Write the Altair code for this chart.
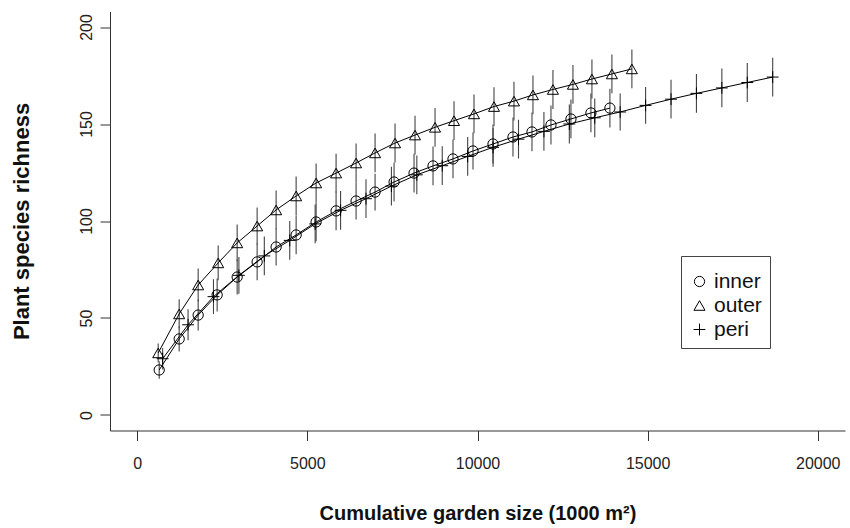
import altair as alt
import pandas as pd

series_names = ["inner", "outer", "peri"]

inner_x = [646, 1233, 1791, 2349, 2937, 3524, 4082, 4670, 5257, 5844, 6432, 6990,
           7548, 8135, 8693, 9280, 9868, 10455, 11043, 11601, 12159, 12746, 13333, 13891]
inner_y = [23.2, 39.2, 51.5, 61.9, 71.1, 78.9, 86.6, 92.8, 99.5, 105.2, 110.3, 114.9,
           120.1, 124.7, 128.4, 132.0, 136.1, 139.7, 143.3, 145.9, 149.5, 152.6, 155.7, 158.2]
inner_err = [4.5, 6.5, 8.0, 8.5, 9.0, 9.5, 9.5, 10.0, 10.0, 10.0, 9.5, 9.5,
             10.0, 10.0, 10.0, 10.0, 9.5, 10.0, 10.0, 10.0, 10.0, 10.0, 10.0, 10.0]

outer_x = [617, 1233, 1791, 2379, 2937, 3524, 4082, 4670, 5257, 5844, 6432, 6990, 7577,
           8164, 8752, 9310, 9897, 10485, 11072, 11630, 12217, 12805, 13363, 13950, 14537]
outer_y = [32.0, 52.1, 67.0, 78.4, 88.7, 97.4, 105.7, 112.9, 119.6, 124.7, 129.9, 135.1, 140.2,
           144.3, 148.3, 151.7, 155.2, 159.0, 161.8, 165.0, 167.8, 170.4, 173.2, 175.8, 178.4]
outer_err = [4.8, 7.5, 8.5, 9.0, 9.5, 9.5, 10.0, 10.0, 10.0, 10.0, 10.0, 10.0, 10.0,
             10.0, 10.0, 10.0, 10.0, 10.0, 10.0, 10.0, 10.0, 10.0, 10.0, 10.0, 10.0]

peri_x = [747, 1494, 2241, 2988, 3735, 4482, 5229, 5976, 6723, 7470, 8217, 8964, 9711,
          10458, 11205, 11952, 12699, 13446, 14193, 14940, 15687, 16434, 17181, 17928, 18675]
peri_y = [29.0, 46.5, 61.0, 72.0, 82.0, 90.0, 98.5, 105.5, 111.5, 118.0, 123.8, 128.5, 133.3,
          138.0, 142.2, 146.2, 150.0, 153.2, 156.2, 159.6, 162.8, 165.8, 168.6, 171.4, 174.2]
peri_err = [5.5, 8.0, 9.0, 9.5, 10.0, 10.0, 10.0, 10.0, 10.0, 10.0, 10.0, 10.0, 10.0,
            10.0, 10.0, 10.0, 10.0, 10.0, 9.5, 9.5, 10.0, 10.0, 10.0, 10.0, 10.0]

x_ticks = [0, 5000, 10000, 15000, 20000]
y_ticks = [0, 50, 100, 150, 200]

rows = []
for name, xs, ys, es in [("inner", inner_x, inner_y, inner_err),
                         ("outer", outer_x, outer_y, outer_err),
                         ("peri", peri_x, peri_y, peri_err)]:
    for xv, yv, ev in zip(xs, ys, es):
        rows.append({"series": name, "x": xv, "y": yv, "lo": yv - ev, "hi": yv + ev})
df = pd.DataFrame(rows)

FONT = "Liberation Sans"
xscale = alt.Scale(domain=[-800, 20800], nice=False, zero=False)
yscale = alt.Scale(domain=[-8, 208], nice=False, zero=False)

xaxis = alt.Axis(values=x_ticks, format="d", title="Cumulative garden size (1000 m²)",
                 grid=False, tickSize=10, labelPadding=15, labelFontSize=16,
                 labelFont=FONT, titleFont=FONT, titleFontSize=20, titleFontWeight="bold",
                 titlePadding=32, domainColor="#333", tickColor="#333",
                 labelColor="#222", titleColor="#111", labelFlush=False)
yaxis = alt.Axis(values=y_ticks, format="d", title="Plant species richness",
                 grid=False, tickSize=10, labelPadding=6, labelFontSize=16,
                 labelAngle=-90, labelAlign="center", labelBaseline="bottom",
                 labelFont=FONT, titleFont=FONT, titleFontSize=22, titleFontWeight="bold",
                 titlePadding=45, domainColor="#333", tickColor="#333",
                 labelColor="#222", titleColor="#111", labelFlush=False)

X = alt.X("x:Q", scale=xscale, axis=xaxis)

legend_def = alt.Legend(title=" ", titleFontSize=7, titlePadding=0,
                        orient="none", legendX=571, legendY=244.5,
                        strokeColor="#444", fillColor="white", padding=8,
                        labelFontSize=21, labelFont=FONT, labelColor="#111",
                        symbolStrokeColor="black", symbolStrokeWidth=1,
                        symbolFillColor="transparent",
                        labelOffset=4, rowPadding=2)

bars = alt.Chart(df).mark_rule(color="#444", strokeWidth=1.1).encode(
    x=X,
    y=alt.Y("lo:Q", scale=yscale, axis=yaxis),
    y2="hi:Q",
)

lines = alt.Chart(df).mark_line(color="black", strokeWidth=1).encode(
    x=X,
    y=alt.Y("y:Q", scale=yscale, axis=yaxis),
    detail="series:N",
)

points = alt.Chart(df).mark_point(filled=False, color="black", strokeWidth=1, opacity=1).encode(
    x=X,
    y=alt.Y("y:Q", scale=yscale, axis=yaxis),
    shape=alt.Shape("series:N",
                    scale=alt.Scale(domain=series_names,
                                    range=["circle", "triangle-up", "M-1,0H1M0,-1V1"]),
                    legend=legend_def),
    size=alt.Size("series:N",
                  scale=alt.Scale(domain=series_names, range=[105, 140, 125]),
                  legend=legend_def),
)

chart = alt.layer(bars, lines, points).properties(
    width=735, height=419,
    padding={"left": 110, "top": 11.5, "right": 5, "bottom": 97.5},
    autosize="none",
).configure(background="white").configure_view(stroke=None)

chart.save("out.html", embed_options={"renderer": "svg", "actions": False})
